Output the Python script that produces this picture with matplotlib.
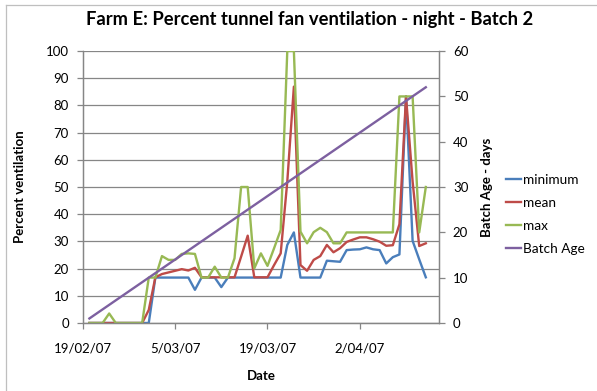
import datetime as dt
import matplotlib
matplotlib.use("Agg")
import matplotlib.pyplot as plt
import matplotlib.dates as mdates
from matplotlib.lines import Line2D

# one reading per night, 20/02/07 .. 12/04/07
first_day = dt.date(2007, 2, 20)
dates = [first_day + dt.timedelta(days=i) for i in range(52)]

minimum = [0, 0, 0, 0, 0, 0, 0, 0, 0, 0,
           16.7, 16.7, 16.7, 16.7, 16.7, 16.7, 12.2, 16.7, 16.7, 16.7,
           13.2, 16.7, 16.7, 16.7, 16.7, 16.7, 16.7, 16.7, 16.7, 16.7,
           28.7, 33.3, 16.7, 16.7, 16.7, 16.7, 22.9, 22.7, 22.5, 26.8,
           27.0, 27.1, 27.8, 27.1, 26.8, 21.9, 24.2, 25.2, 83.3, 30.2,
           23.4, 16.8]
mean = [0, 0, 0, 0, 0, 0, 0, 0, 0, 4.8,
        16.8, 18.0, 18.6, 19.2, 19.8, 19.3, 20.3, 16.8, 16.8, 16.8,
        16.8, 16.8, 16.8, 24.4, 32.1, 16.8, 16.8, 16.8, 21.3, 25.6,
        52.0, 86.9, 21.3, 19.2, 23.2, 24.6, 28.7, 26.0, 27.5, 29.8,
        30.7, 31.5, 31.5, 30.8, 29.9, 28.4, 28.6, 36.3, 83.3, 52.0,
        28.3, 29.3]
maximum = [0, 0, 0, 3.5, 0, 0, 0, 0, 0, 16.7,
           16.7, 24.6, 23.2, 23.2, 25.4, 25.6, 25.4, 16.7, 16.7, 20.7,
           16.7, 16.7, 23.8, 50.0, 50.0, 20.1, 25.6, 21.0, 27.5, 34.2,
           100, 100, 33.6, 29.3, 33.4, 35.0, 33.4, 29.3, 29.3, 33.3,
           33.3, 33.3, 33.3, 33.3, 33.3, 33.3, 33.3, 83.3, 83.3, 83.3,
           33.3, 50.0]
batch_age = [1, 2, 3, 4, 5, 6, 7, 8, 9, 10,
             11, 12, 13, 14, 15, 16, 17, 18, 19, 20,
             21, 22, 23, 24, 25, 26, 27, 28, 29, 30,
             31, 32, 33, 34, 35, 36, 37, 38, 39, 40,
             41, 42, 43, 44, 45, 46, 47, 48, 49, 50,
             51, 52]

tick_dates = [dt.date(2007, 2, 19), dt.date(2007, 3, 5),
              dt.date(2007, 3, 19), dt.date(2007, 4, 2)]
tick_labels = ["19/02/07", "5/03/07", "19/03/07", "2/04/07"]

BLUE = "#4a7ebb"
RED = "#be4b48"
GREEN = "#98b954"
PURPLE = "#7d60a0"
GRID = "#868686"
FONT = "Lato"

plt.rcParams["font.family"] = [FONT, "DejaVu Sans"]

fig = plt.figure(figsize=(5.97, 3.91), dpi=100)
W, H = 597, 391
ax = fig.add_axes([82.8 / W, 1 - 323 / H, (439 - 82.8) / W, (323 - 51) / H])
ax2 = ax.twinx()

lw = 1.7
l1, = ax.plot(dates, minimum, color=BLUE, lw=lw, label="minimum")
l2, = ax.plot(dates, mean, color=RED, lw=lw, label="mean")
l3, = ax.plot(dates, maximum, color=GREEN, lw=lw, label="max")
l4, = ax2.plot(dates, batch_age, color=PURPLE, lw=lw, label="Batch Age")

ax.set_xlim(mdates.date2num(dt.date(2007, 2, 19)),
            mdates.date2num(dt.date(2007, 4, 14)))
ax.set_ylim(0, 100)
ax2.set_ylim(0, 60)
ax.set_yticks(range(0, 101, 10))
ax2.set_yticks(range(0, 61, 10))
ax.set_xticks([mdates.date2num(d) for d in tick_dates])
ax.set_xticklabels(tick_labels)

ax.grid(axis="y", color=GRID, lw=0.9)
ax.set_axisbelow(True)
for a in (ax, ax2):
    for s in a.spines.values():
        s.set_color(GRID)
        s.set_linewidth(0.9)
    a.spines["top"].set_visible(False)
    a.tick_params(colors=GRID, labelcolor="black", labelsize=9.5,
                  length=4, width=0.9, direction="out")
ax.tick_params(axis="x", pad=10)
ax.tick_params(axis="y", pad=6)
ax2.tick_params(axis="y", pad=6)

ax.set_xlabel("Date", fontsize=9.5, fontweight="bold", labelpad=11)
ax.set_ylabel("Percent ventilation", fontsize=9.5, fontweight="bold", labelpad=14)
ax2.set_ylabel("Batch Age - days", fontsize=9.5, fontweight="bold", labelpad=9)

fig.text(310 / W, 1 - 19 / H,
         "Farm E: Percent tunnel fan ventilation - night - Batch 2",
         ha="center", va="center", fontsize=13.2, fontweight="bold")

fig.legend(handles=[l1, l2, l3, l4], loc="upper left",
           bbox_to_anchor=(506 / W, 1 - 174 / H), frameon=False,
           fontsize=9.8, handlelength=1.1, handletextpad=0.15,
           labelspacing=0.8, borderpad=0, borderaxespad=0)

# chart area border
fig.add_artist(Line2D([6 / W, 6 / W], [0, 1 - 5 / H], color="#bfbfbf", lw=0.9,
                      transform=fig.transFigure))
fig.add_artist(Line2D([6 / W, 1], [1 - 5 / H, 1 - 5 / H], color="#bfbfbf",
                      lw=0.9, transform=fig.transFigure))

fig.savefig("out.png", dpi=100)
